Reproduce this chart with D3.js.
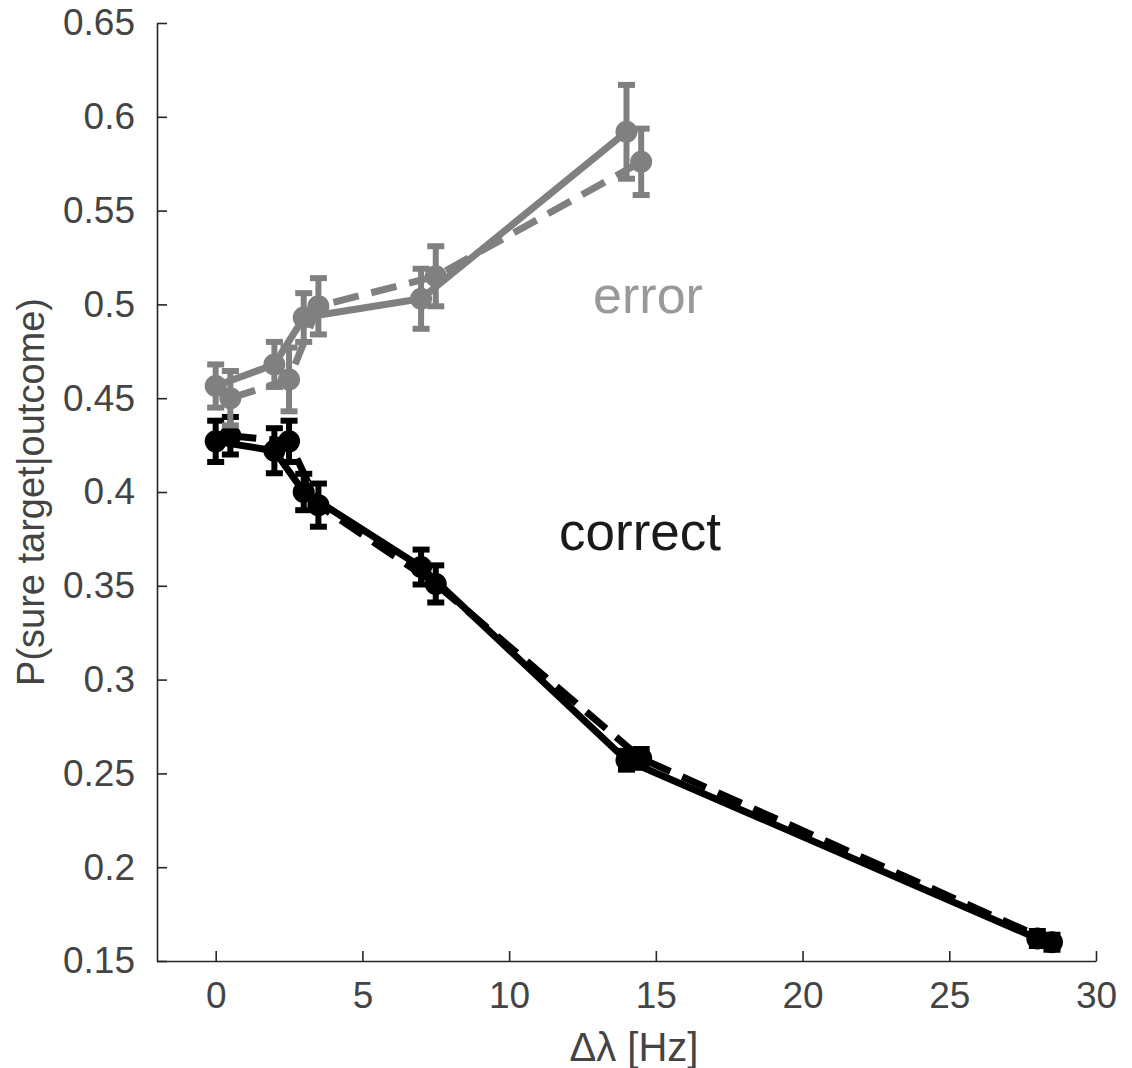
<!DOCTYPE html>
<html>
<head>
<meta charset="utf-8">
<script src="https://cdn.jsdelivr.net/npm/d3@7"></script>
<style>
  html, body { margin: 0; padding: 0; background: #fff; }
  svg { display: block; }
  text { font-family: "Liberation Sans", Arial, Helvetica, sans-serif; }
</style>
</head>
<body>
<svg id="chart" width="1132" height="1068"></svg>
<script>
// Δλ positions (Hz); the second session is drawn slightly right-shifted
const xSolid  = [0, 2, 3, 7, 14, 28];
const xDashed = [0.5, 2.5, 3.5, 7.5, 14.5, 28.5];

// P(sure target | error)
const errorSolid      = [0.4565, 0.468, 0.493, 0.503, 0.592];
const errorSolidSem   = [0.0115, 0.012, 0.013, 0.016, 0.025];
const errorDashed     = [0.450, 0.460, 0.499, 0.515, 0.576];
const errorDashedSem  = [0.0145, 0.017, 0.015, 0.016, 0.0177];

// P(sure target | correct)
const correctSolid     = [0.427, 0.422, 0.400, 0.360, 0.257, 0.162];
const correctSolidSem  = [0.011, 0.012, 0.0097, 0.0093, 0.005, 0.004];
const correctDashed    = [0.430, 0.427, 0.393, 0.351, 0.258, 0.160];
const correctDashedSem = [0.010, 0.011, 0.0115, 0.0099, 0.005, 0.004];

const xTicks = [0, 5, 10, 15, 20, 25, 30];
const yTicks = [0.15, 0.2, 0.25, 0.3, 0.35, 0.4, 0.45, 0.5, 0.55, 0.6, 0.65];

const svg = d3.select("#chart");
const x = d3.scaleLinear().domain([-2, 30]).range([157, 1096]);
const y = d3.scaleLinear().domain([0.15, 0.65]).range([961, 23]);

const axisColor = "#262626";
const labelColor = "#444444";

// axes with inward ticks
const gx = svg.append("g").attr("transform", `translate(0,${y(0.15)})`)
  .call(d3.axisBottom(x).tickValues(xTicks).tickFormat(d3.format("d"))
        .tickSizeInner(-10).tickSizeOuter(0).tickPadding(21));
const gy = svg.append("g").attr("transform", `translate(${x(-2)},0)`)
  .call(d3.axisLeft(y).tickValues(yTicks).tickFormat(d => String(+d.toFixed(2)))
        .tickSizeInner(-10).tickSizeOuter(0).tickPadding(22));
[gx, gy].forEach(g => {
  g.select(".domain").attr("stroke", axisColor).attr("stroke-width", 1.6);
  g.selectAll(".tick line").attr("stroke", axisColor).attr("stroke-width", 1.6);
  g.selectAll(".tick text").attr("fill", labelColor).attr("font-size", 37);
});

// series drawing: line, error bars with caps, filled circle markers
function drawSeries(xs, ys, sems, color, dashed) {
  const g = svg.append("g");
  const pts = ys.map((v, i) => ({x: xs[i], y: v, e: sems[i]}));
  g.append("path")
    .datum(pts)
    .attr("fill", "none")
    .attr("stroke", color)
    .attr("stroke-width", 7)
    .attr("stroke-linejoin", "round")
    .attr("stroke-dasharray", dashed ? "26,13" : null)
    .attr("d", d3.line().x(d => x(d.x)).y(d => y(d.y)));
  const bars = g.selectAll(".bar").data(pts).join("g");
  bars.append("line")
    .attr("x1", d => x(d.x)).attr("x2", d => x(d.x))
    .attr("y1", d => y(d.y - d.e)).attr("y2", d => y(d.y + d.e))
    .attr("stroke", color).attr("stroke-width", 6);
  [-1, 1].forEach(s => {
    bars.append("rect")
      .attr("x", d => x(d.x) - 8.5)
      .attr("y", d => y(d.y + s * d.e) - 3)
      .attr("width", 17).attr("height", 6)
      .attr("fill", color);
  });
  g.selectAll(".dot").data(pts).join("circle")
    .attr("cx", d => x(d.x)).attr("cy", d => y(d.y))
    .attr("r", 11).attr("fill", color);
}

const black = "#000000";
const gray = "#808080";
drawSeries(xDashed, correctDashed, correctDashedSem, black, true);
drawSeries(xSolid, correctSolid, correctSolidSem, black, false);
drawSeries(xDashed.slice(0, 5), errorDashed, errorDashedSem, gray, true);
drawSeries(xSolid.slice(0, 5), errorSolid, errorSolidSem, gray, false);

// condition labels
svg.append("text").attr("x", 648).attr("y", 313).attr("text-anchor", "middle")
  .attr("font-size", 52).attr("fill", "#999999").text("error");
svg.append("text").attr("x", 640).attr("y", 550).attr("text-anchor", "middle")
  .attr("font-size", 53).attr("fill", "#1a1a1a").text("correct");

// axis titles
svg.append("text").attr("x", 634).attr("y", 1061).attr("text-anchor", "middle")
  .attr("font-size", 40).attr("fill", labelColor).text("Δλ [Hz]");
svg.append("text")
  .attr("transform", `translate(44,${y(0.4)}) rotate(-90)`)
  .attr("text-anchor", "middle")
  .attr("font-size", 38).attr("fill", labelColor).text("P(sure target|outcome)");
</script>
</body>
</html>
